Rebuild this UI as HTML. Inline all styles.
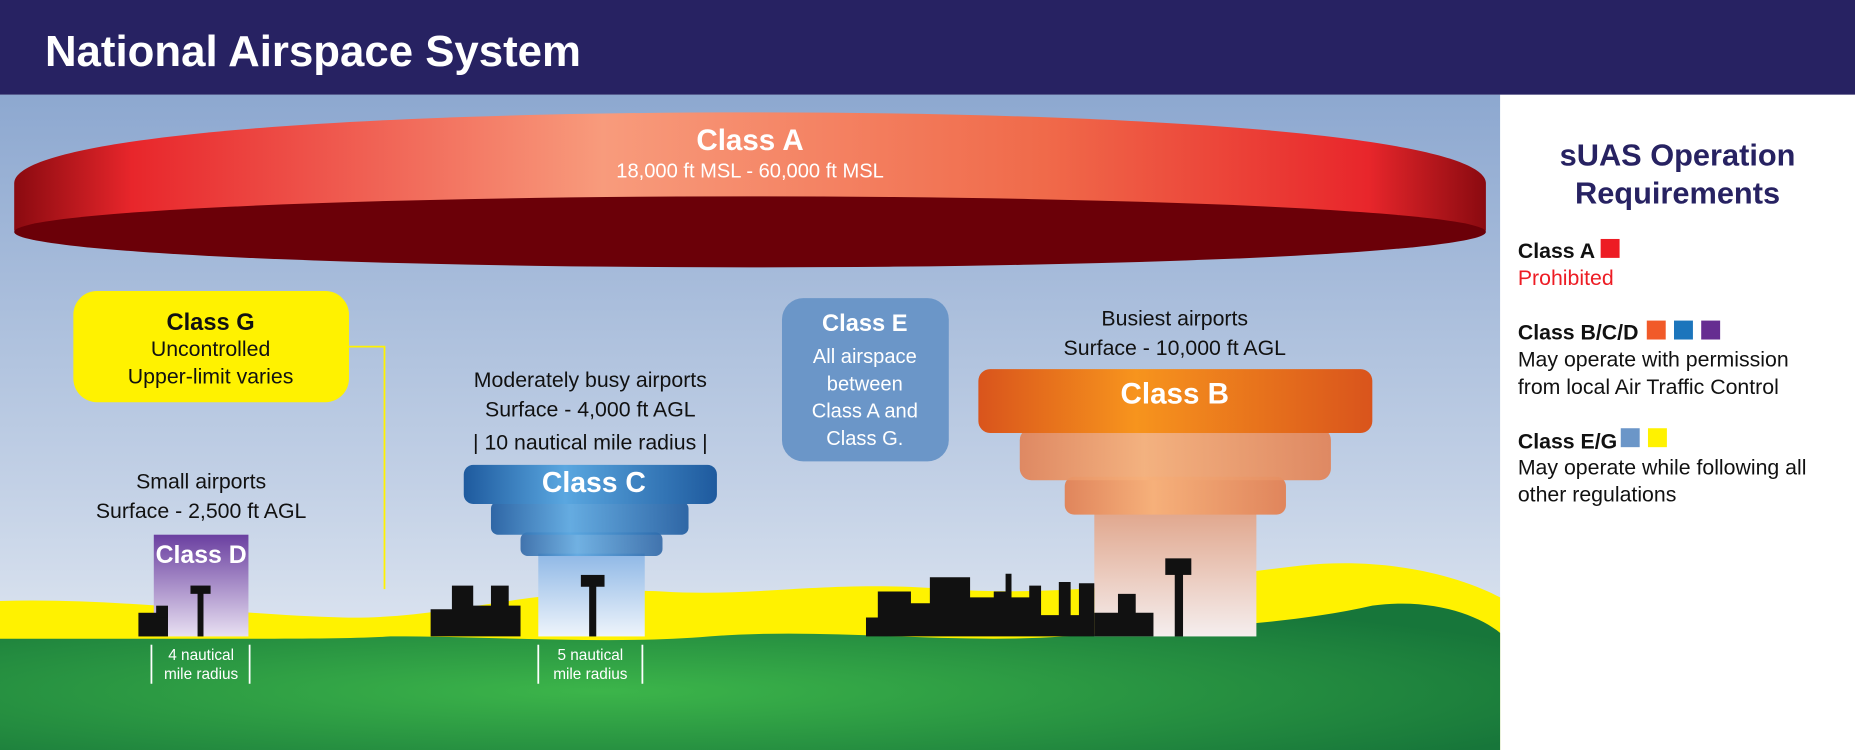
<!DOCTYPE html>
<html><head><meta charset="utf-8"><style>
html,body{margin:0;padding:0;width:1855px;height:750px;overflow:hidden;background:#fff}
svg{display:block}
text{font-family:"Liberation Sans",sans-serif}
</style></head><body>
<svg width="1855" height="750" viewBox="0 0 1568 634" preserveAspectRatio="none">
<defs>
<linearGradient id="sky" x1="0" y1="0" x2="0" y2="1"><stop offset="0" stop-color="#8da8d0"/><stop offset="0.6" stop-color="#c3d1e6"/><stop offset="1" stop-color="#eef2f7"/></linearGradient>
<linearGradient id="ra" x1="0" y1="0" x2="1" y2="0"><stop offset="0" stop-color="#8a0a10"/><stop offset="0.08" stop-color="#e8262b"/><stop offset="0.4" stop-color="#f89b7c"/><stop offset="0.7" stop-color="#f06a4a"/><stop offset="0.92" stop-color="#e8262b"/><stop offset="1" stop-color="#8a0a10"/></linearGradient>
<radialGradient id="gr" cx="0.4" cy="0.6" r="0.7"><stop offset="0" stop-color="#3cb54a"/><stop offset="1" stop-color="#17763a"/></radialGradient>
<linearGradient id="cb" x1="0" y1="0" x2="1" y2="0"><stop offset="0" stop-color="#1e5a9e"/><stop offset="0.4" stop-color="#5aa7e0"/><stop offset="1" stop-color="#1e5a9e"/></linearGradient>
<linearGradient id="ob" x1="0" y1="0" x2="1" y2="0"><stop offset="0" stop-color="#d9541c"/><stop offset="0.4" stop-color="#f7941d"/><stop offset="1" stop-color="#d9541c"/></linearGradient>
<linearGradient id="ob2" x1="0" y1="0" x2="1" y2="0"><stop offset="0" stop-color="#e0855c"/><stop offset="0.4" stop-color="#f6b07a"/><stop offset="1" stop-color="#e0855c"/></linearGradient>
<linearGradient id="colb" x1="0" y1="0" x2="0" y2="1"><stop offset="0" stop-color="#e0a68c"/><stop offset="1" stop-color="#f5eeee"/></linearGradient>
<linearGradient id="colc" x1="0" y1="0" x2="0" y2="1"><stop offset="0" stop-color="#8fb8e6"/><stop offset="1" stop-color="#eef4fb"/></linearGradient>
<linearGradient id="cold" x1="0" y1="0" x2="0" y2="1"><stop offset="0" stop-color="#6a3fa0"/><stop offset="1" stop-color="#e8e0f2"/></linearGradient>
</defs>
<rect x="0" y="0" width="1568" height="634" fill="#fff"/>
<rect x="0" y="80" width="1268" height="554" fill="url(#sky)"/>
<rect x="0" y="0" width="1568" height="80" fill="#272262"/>
<text x="38" y="56" font-size="37" font-weight="bold" fill="#fff">National Airspace System</text>

<!-- Class A -->
<path d="M12,155 C12,115 300,95 634,95 C968,95 1256,115 1256,155 L1256,195 L12,195 Z" fill="url(#ra)"/>
<ellipse cx="634" cy="196" rx="622" ry="30" fill="#6b0008"/>
<text x="634" y="127" font-size="25" font-weight="bold" fill="#fff" text-anchor="middle">Class A</text>
<text x="634" y="150" font-size="17" fill="#fff" text-anchor="middle">18,000 ft MSL - 60,000 ft MSL</text>

<!-- ground -->
<path d="M0,508 C100,505 200,520 290,522 C380,524 450,495 560,500 C640,505 700,490 800,498 C900,505 1000,490 1100,478 C1180,470 1240,490 1268,505 L1268,634 L0,634 Z" fill="#fff200"/>
<path d="M0,540 L180,540 C250,540 300,540 330,538 C420,538 520,545 600,538 C700,530 800,545 900,538 C1000,530 1080,530 1160,512 C1210,505 1250,520 1268,535 L1268,634 L0,634 Z" fill="url(#gr)"/>

<!-- Class G box -->
<polyline points="295,293 325,293 325,498" fill="none" stroke="#fff200" stroke-width="1.5"/>
<rect x="62" y="246" width="233" height="94" rx="20" fill="#fff200"/>
<text x="178" y="279" font-size="20" font-weight="bold" fill="#111" text-anchor="middle">Class G</text>
<text x="178" y="301" font-size="18" fill="#111" text-anchor="middle">Uncontrolled</text>
<text x="178" y="324" font-size="18" fill="#111" text-anchor="middle">Upper-limit varies</text>

<!-- Class E box -->
<rect x="661" y="252" width="141" height="138" rx="18" fill="#6b96c8"/>
<text x="731" y="280" font-size="20" font-weight="bold" fill="#fff" text-anchor="middle">Class E</text>
<g font-size="17" fill="#fff" text-anchor="middle"><text x="731" y="307">All airspace</text><text x="731" y="330">between</text><text x="731" y="353">Class A and</text><text x="731" y="376">Class G.</text></g>

<!-- Class D -->
<text x="170" y="413" font-size="18" fill="#111" text-anchor="middle">Small airports</text>
<text x="170" y="438" font-size="18" fill="#111" text-anchor="middle">Surface - 2,500 ft AGL</text>
<rect x="130" y="452" width="80" height="86" fill="url(#cold)"/>
<text x="170" y="476" font-size="21" font-weight="bold" fill="#fff" text-anchor="middle">Class D</text>
<rect x="167" y="500" width="5" height="38" fill="#111"/><rect x="161" y="495" width="17" height="7" fill="#111"/>
<rect x="117" y="518" width="25" height="20" fill="#111"/><rect x="132" y="512" width="10" height="10" fill="#111"/>
<g stroke="#fff" stroke-width="1.5"><line x1="128" y1="545" x2="128" y2="578"/><line x1="211" y1="545" x2="211" y2="578"/></g>
<text x="170" y="558" font-size="13" fill="#fff" text-anchor="middle">4 nautical</text>
<text x="170" y="574" font-size="13" fill="#fff" text-anchor="middle">mile radius</text>

<!-- Class C -->
<text x="499" y="327" font-size="18" fill="#111" text-anchor="middle">Moderately busy airports</text>
<text x="499" y="352" font-size="18" fill="#111" text-anchor="middle">Surface - 4,000 ft AGL</text>
<text x="499" y="380" font-size="18" fill="#111" text-anchor="middle">| 10 nautical mile radius |</text>
<rect x="455" y="468" width="90" height="70" fill="url(#colc)"/>
<rect x="440" y="450" width="120" height="20" rx="6" fill="url(#cb)" opacity="0.8"/>
<rect x="415" y="424" width="167" height="28" rx="6" fill="url(#cb)" opacity="0.9"/>
<rect x="392" y="393" width="214" height="33" rx="8" fill="url(#cb)"/>
<text x="502" y="416" font-size="24" font-weight="bold" fill="#fff" text-anchor="middle">Class C</text>
<rect x="498" y="495" width="6" height="43" fill="#111"/><rect x="491" y="486" width="20" height="10" fill="#111"/>
<path d="M364,538 L364,515 L382,515 L382,495 L400,495 L400,512 L415,512 L415,495 L430,495 L430,512 L440,512 L440,538 Z" fill="#111"/>
<g stroke="#fff" stroke-width="1.5"><line x1="455" y1="545" x2="455" y2="578"/><line x1="543" y1="545" x2="543" y2="578"/></g>
<text x="499" y="558" font-size="13" fill="#fff" text-anchor="middle">5 nautical</text>
<text x="499" y="574" font-size="13" fill="#fff" text-anchor="middle">mile radius</text>

<!-- Class B -->
<text x="993" y="275" font-size="18" fill="#111" text-anchor="middle">Busiest airports</text>
<text x="993" y="300" font-size="18" fill="#111" text-anchor="middle">Surface - 10,000 ft AGL</text>
<rect x="925" y="432" width="137" height="106" fill="url(#colb)"/>
<rect x="900" y="403" width="187" height="32" rx="8" fill="url(#ob2)"/>
<rect x="862" y="362" width="263" height="44" rx="10" fill="url(#ob2)" opacity="0.95"/>
<rect x="827" y="312" width="333" height="54" rx="10" fill="url(#ob)"/>
<text x="993" y="341" font-size="25" font-weight="bold" fill="#fff" text-anchor="middle">Class B</text>
<rect x="993" y="485" width="7" height="53" fill="#111"/><rect x="985" y="472" width="22" height="14" fill="#111"/>
<path d="M732,538 L732,522 L742,522 L742,500 L770,500 L770,510 L786,510 L786,488 L820,488 L820,505 L840,505 L840,500 L850,500 L850,485 L855,485 L855,505 L870,505 L870,495 L880,495 L880,520 L895,520 L895,492 L905,492 L905,520 L912,520 L912,493 L925,493 L925,538 Z" fill="#111"/>
<path d="M925,538 L925,518 L945,518 L945,502 L960,502 L960,518 L975,518 L975,538 Z" fill="#111"/>

<!-- Right panel -->
<text x="1418" y="140" font-size="26" font-weight="bold" fill="#272262" text-anchor="middle">sUAS Operation</text>
<text x="1418" y="172" font-size="26" font-weight="bold" fill="#272262" text-anchor="middle">Requirements</text>
<text x="1283" y="218" font-size="18" font-weight="bold" fill="#111">Class A</text>
<rect x="1353" y="202" width="16" height="16" fill="#ed1c24"/>
<text x="1283" y="241" font-size="18" fill="#ed1c24">Prohibited</text>
<text x="1283" y="287" font-size="18" font-weight="bold" fill="#111">Class B/C/D</text>
<rect x="1392" y="271" width="16" height="16" fill="#f15a29"/>
<rect x="1415" y="271" width="16" height="16" fill="#1c75bc"/>
<rect x="1438" y="271" width="16" height="16" fill="#662d91"/>
<text x="1283" y="310" font-size="18" fill="#111">May operate with permission</text>
<text x="1283" y="333" font-size="18" fill="#111">from local Air Traffic Control</text>
<text x="1283" y="379" font-size="18" font-weight="bold" fill="#111">Class E/G</text>
<rect x="1370" y="362" width="16" height="16" fill="#6b96c8"/>
<rect x="1393" y="362" width="16" height="16" fill="#fff200"/>
<text x="1283" y="401" font-size="18" fill="#111">May operate while following all</text>
<text x="1283" y="424" font-size="18" fill="#111">other regulations</text>
</svg>
</body></html>
